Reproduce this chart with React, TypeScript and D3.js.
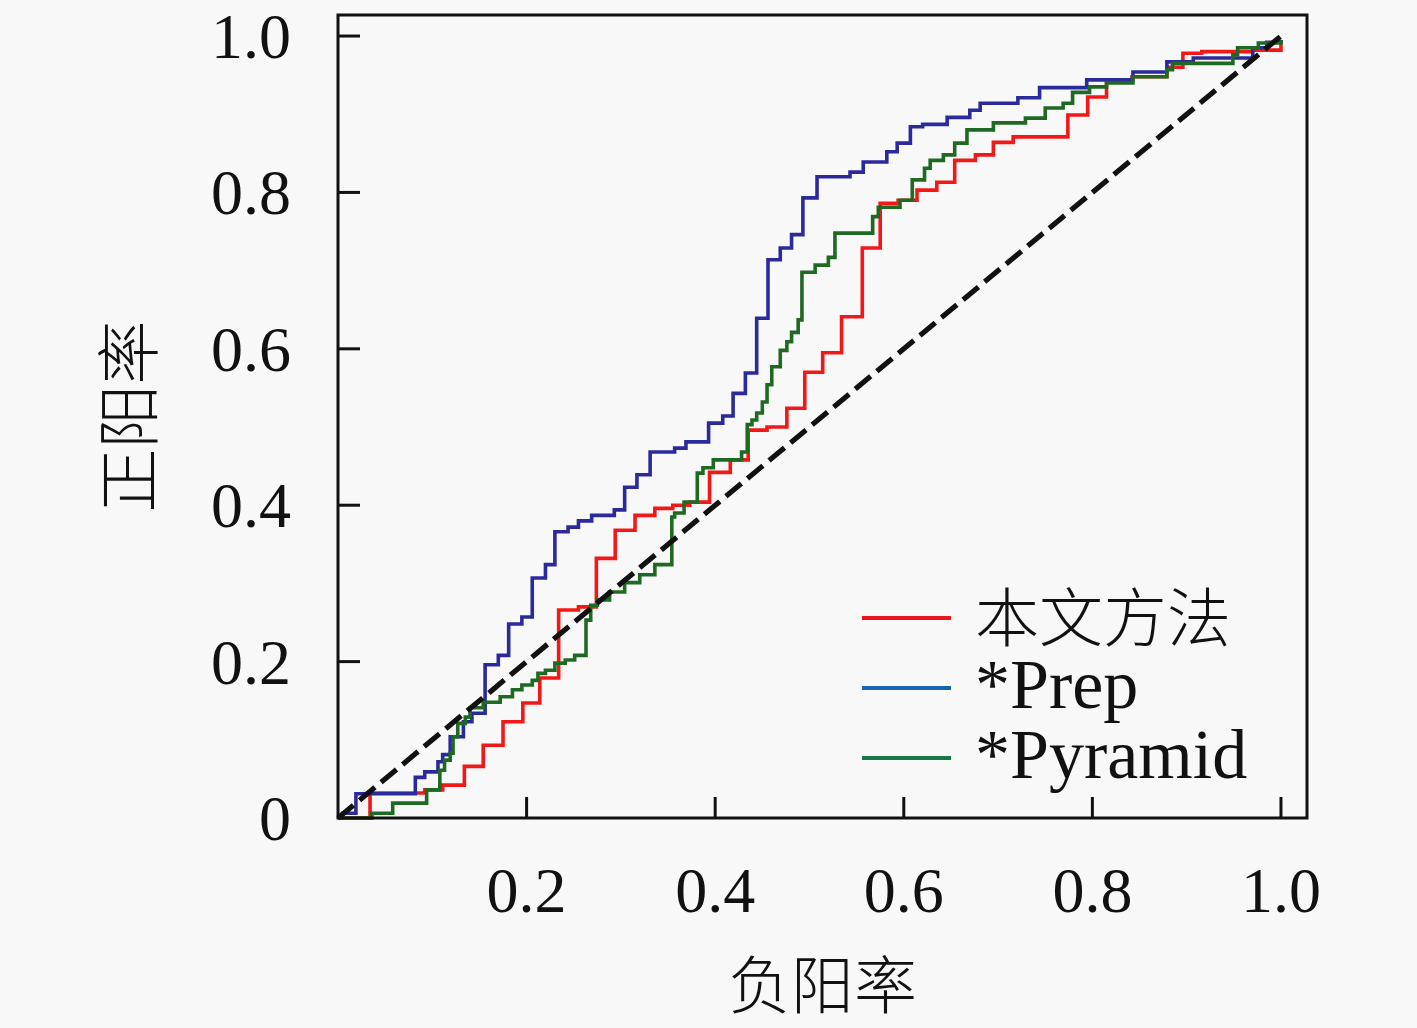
import React from "react";
import * as d3 from "d3";

// ---------- data ----------
const xTicks = [0.2, 0.4, 0.6, 0.8, 1.0];
const yTicks = [0, 0.2, 0.4, 0.6, 0.8, 1.0];
const xTickLabels = ["0.2", "0.4", "0.6", "0.8", "1.0"];
const yTickLabels = ["0", "0.2", "0.4", "0.6", "0.8", "1.0"];

const seriesNames = ["本文方法", "*Prep", "*Pyramid"];

// 本文方法 (red)
const oursFpr = [0, 0.034, 0.092, 0.111, 0.134, 0.154, 0.175, 0.196, 0.214, 0.234, 0.255, 0.274, 0.294, 0.315, 0.336, 0.355, 0.373, 0.394, 0.416, 0.435, 0.455, 0.476, 0.495, 0.514, 0.534, 0.556, 0.575, 0.594, 0.614, 0.635, 0.654, 0.676, 0.695, 0.716, 0.774, 0.795, 0.815, 0.842, 0.879, 0.896, 0.916, 0.970, 1.0];
const oursTpr = [0, 0.032, 0.036, 0.042, 0.066, 0.093, 0.123, 0.147, 0.179, 0.266, 0.270, 0.332, 0.368, 0.387, 0.396, 0.400, 0.404, 0.442, 0.458, 0.496, 0.500, 0.524, 0.570, 0.595, 0.641, 0.729, 0.786, 0.790, 0.803, 0.813, 0.841, 0.848, 0.864, 0.871, 0.899, 0.922, 0.941, 0.948, 0.960, 0.978, 0.980, 0.982, 0.995];

// *Prep (blue)
const prepFpr = [0, 0.005, 0.019, 0.082, 0.092, 0.106, 0.111, 0.119, 0.133, 0.142, 0.156, 0.170, 0.181, 0.195, 0.206, 0.220, 0.230, 0.244, 0.255, 0.269, 0.293, 0.304, 0.317, 0.331, 0.357, 0.369, 0.393, 0.408, 0.419, 0.432, 0.444, 0.456, 0.469, 0.481, 0.493, 0.508, 0.543, 0.557, 0.582, 0.593, 0.607, 0.620, 0.646, 0.670, 0.681, 0.721, 0.744, 0.794, 0.843, 0.879, 0.907, 0.970, 0.985, 1.0];
const prepTpr = [0, 0.006, 0.031, 0.052, 0.059, 0.072, 0.081, 0.104, 0.123, 0.134, 0.196, 0.208, 0.248, 0.257, 0.307, 0.324, 0.366, 0.372, 0.380, 0.387, 0.394, 0.423, 0.439, 0.468, 0.473, 0.481, 0.505, 0.514, 0.543, 0.569, 0.639, 0.714, 0.729, 0.746, 0.793, 0.820, 0.826, 0.839, 0.852, 0.863, 0.884, 0.887, 0.896, 0.905, 0.914, 0.921, 0.934, 0.944, 0.954, 0.967, 0.972, 0.985, 0.992, 0.995];

// *Pyramid (green)
const pyrFpr = [0, 0.036, 0.058, 0.094, 0.108, 0.113, 0.119, 0.122, 0.127, 0.135, 0.140, 0.154, 0.172, 0.185, 0.195, 0.206, 0.212, 0.220, 0.230, 0.241, 0.251, 0.263, 0.268, 0.275, 0.288, 0.304, 0.320, 0.336, 0.354, 0.357, 0.367, 0.381, 0.387, 0.398, 0.428, 0.434, 0.439, 0.444, 0.450, 0.455, 0.460, 0.469, 0.476, 0.481, 0.488, 0.492, 0.506, 0.520, 0.527, 0.567, 0.573, 0.596, 0.609, 0.622, 0.628, 0.642, 0.654, 0.667, 0.695, 0.729, 0.750, 0.769, 0.779, 0.797, 0.815, 0.843, 0.879, 0.885, 0.949, 0.954, 0.976, 1.0];
const pyrTpr = [0, 0.006, 0.019, 0.036, 0.061, 0.074, 0.083, 0.104, 0.121, 0.129, 0.141, 0.148, 0.155, 0.164, 0.170, 0.176, 0.185, 0.189, 0.198, 0.202, 0.208, 0.253, 0.272, 0.279, 0.289, 0.301, 0.311, 0.324, 0.385, 0.390, 0.404, 0.441, 0.448, 0.458, 0.468, 0.503, 0.509, 0.518, 0.532, 0.554, 0.577, 0.598, 0.609, 0.621, 0.637, 0.698, 0.707, 0.717, 0.748, 0.769, 0.781, 0.790, 0.816, 0.831, 0.841, 0.848, 0.863, 0.880, 0.889, 0.895, 0.908, 0.914, 0.928, 0.935, 0.940, 0.948, 0.957, 0.965, 0.976, 0.985, 0.991, 0.995];

const curveColors = ["#f21818", "#2a2a9c", "#1f6a22"];
const legendColors = ["#e8141e", "#1565b0", "#17784c"];

// ---------- layout ----------
const W = 1417;
const H = 1028;
const left = 338;
const right = 1307;
const top = 15;
const bottom = 818;

const SERIF = "'Liberation Serif', 'Times New Roman', serif";
const CJK = "'Noto Sans CJK SC', 'Noto Sans CJK JP', sans-serif";

export default function App() {
  const x = d3.scaleLinear().domain([0, 1.0276]).range([left, right]);
  const y = d3.scaleLinear().domain([0, 1.0269]).range([bottom, top]);

  const line = d3
    .line<[number, number]>()
    .x((d) => x(d[0]))
    .y((d) => y(d[1]))
    .curve(d3.curveStepAfter);

  const series = [
    { fpr: oursFpr, tpr: oursTpr },
    { fpr: prepFpr, tpr: prepTpr },
    { fpr: pyrFpr, tpr: pyrTpr },
  ];

  const diag = d3
    .line<[number, number]>()
    .x((d) => x(d[0]))
    .y((d) => y(d[1]));

  const legendY = [618, 688, 758];

  return (
    <div style={{ position: "absolute", left: 0, top: 0 }}>
      <svg width={W} height={H} viewBox={`0 0 ${W} ${H}`} style={{ display: "block" }}>
        <rect x={0} y={0} width={W} height={H} fill="#f8f8f8" />

        {/* curves */}
        {series.map((s, i) => {
          const pts: [number, number][] = s.fpr.map((f, k) => [f, s.tpr[k]]);
          return (
            <path
              key={i}
              d={line(pts) || ""}
              fill="none"
              stroke={curveColors[i]}
              strokeWidth={3.6}
              strokeLinejoin="miter"
            />
          );
        })}

        {/* chance diagonal */}
        <path
          d={diag([[0, 0], [1, 1]]) || ""}
          fill="none"
          stroke="#111"
          strokeWidth={5.2}
          strokeDasharray="20 8"
        />

        {/* frame */}
        <rect
          x={left}
          y={top}
          width={right - left}
          height={bottom - top}
          fill="none"
          stroke="#111"
          strokeWidth={3}
        />

        {/* x ticks */}
        {xTicks.map((t, i) => (
          <g key={"xt" + i}>
            <line x1={x(t)} x2={x(t)} y1={bottom} y2={bottom - 21} stroke="#111" strokeWidth={3} />
            <text
              x={x(t)}
              y={912}
              textAnchor="middle"
              fontFamily={SERIF}
              fontSize={64}
              fill="#111"
            >
              {xTickLabels[i]}
            </text>
          </g>
        ))}

        {/* y ticks */}
        {yTicks.map((t, i) => (
          <g key={"yt" + i}>
            {t > 0 && (
              <line x1={left} x2={left + 22} y1={y(t)} y2={y(t)} stroke="#111" strokeWidth={3} />
            )}
            <text
              x={291}
              y={y(t) + 22}
              textAnchor="end"
              fontFamily={SERIF}
              fontSize={64}
              fill="#111"
            >
              {yTickLabels[i]}
            </text>
          </g>
        ))}

        {/* axis titles */}
        <text
          x={(left + right) / 2}
          y={1008}
          textAnchor="middle"
          fontFamily={CJK}
          fontWeight={300}
          fontSize={63}
          fill="#111"
        >
          负阳率
        </text>
        <text
          transform={`translate(152, ${(top + bottom) / 2}) rotate(-90)`}
          textAnchor="middle"
          fontFamily={CJK}
          fontWeight={300}
          fontSize={64}
          fill="#111"
        >
          正阳率
        </text>

        {/* legend */}
        {seriesNames.map((name, i) => (
          <g key={"lg" + i}>
            <line
              x1={862}
              x2={951}
              y1={legendY[i]}
              y2={legendY[i]}
              stroke={legendColors[i]}
              strokeWidth={3.8}
            />
            {i === 0 ? (
              <text
                x={975}
                y={legendY[i] + 23}
                fontFamily={CJK}
                fontWeight={300}
                fontSize={64}
                fill="#111"
              >
                {name}
              </text>
            ) : (
              <text
                x={975}
                y={legendY[i] + 20}
                fontFamily={SERIF}
                fontSize={70}
                fill="#111"
              >
                {name}
              </text>
            )}
          </g>
        ))}
      </svg>
    </div>
  );
}
